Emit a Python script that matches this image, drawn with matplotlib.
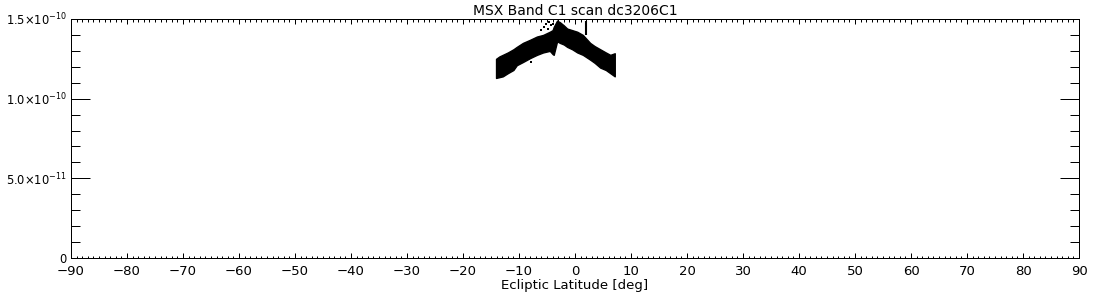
import matplotlib
matplotlib.use("Agg")
import matplotlib.pyplot as plt
from matplotlib.ticker import MultipleLocator, FixedLocator, FixedFormatter

plt.rcParams['font.family'] = ['DejaVu Sans']
plt.rcParams['mathtext.fontset'] = 'dejavusans'

# Envelope of the dense scan data (ecliptic latitude [deg], flux)
band_lat = [-14.1, -13.5, -12.9, -12.0, -11.0, -10.4, -9.3, -8.0, -6.8, -5.7,
            -4.5, -4.0, -3.8, -3.2, -2.7, -2.0, -1.4, -0.5, 0.4, 1.4,
            2.7, 3.5, 4.5, 5.5, 6.3, 7.1]
band_hi = [1.25, 1.265, 1.275, 1.29, 1.31, 1.325, 1.35, 1.37, 1.39, 1.40,
           1.42, 1.43, 1.45, 1.49, 1.48, 1.46, 1.44, 1.43, 1.42, 1.40,
           1.35, 1.33, 1.31, 1.29, 1.275, 1.285]
band_lo = [1.13, 1.135, 1.14, 1.16, 1.18, 1.21, 1.23, 1.255, 1.275, 1.29,
           1.30, 1.28, 1.275, 1.36, 1.35, 1.34, 1.325, 1.31, 1.29, 1.275,
           1.245, 1.225, 1.195, 1.18, 1.16, 1.14]
scale = 1e-10

# Scattered outlying samples
out_lat = [-6.0, -5.5, -5.2, -4.9, -4.6, -4.3, -4.1, -3.9, -7.9]
out_val = [1.43, 1.45, 1.47, 1.44, 1.48, 1.46, 1.50, 1.47, 1.23]

# Narrow spike
spike_lat = [2.0]
spike_lo = [1.40]
spike_hi = [1.49]

xticks = [-90, -80, -70, -60, -50, -40, -30, -20, -10, 0, 10, 20, 30, 40, 50, 60, 70, 80, 90]
yticks = [0, 5e-11, 1e-10, 1.5e-10]
ylabels = ['0', r'5.0$\times$10$^{-11}$', r'1.0$\times$10$^{-10}$', r'1.5$\times$10$^{-10}$']

fig = plt.figure(figsize=(11, 3), dpi=100)
ax = fig.add_axes([71/1100, 1 - 258/300, 1008/1100, 239/300])

ax.fill_between(band_lat, [v * scale for v in band_lo], [v * scale for v in band_hi],
                color='black', edgecolor='black', linewidth=1.0)
ax.plot(out_lat, [v * scale for v in out_val], 's', color='black', markersize=1.8,
        markeredgewidth=0)
ax.vlines(spike_lat, [v * scale for v in spike_lo], [v * scale for v in spike_hi],
          color='black', linewidth=1.5)

ax.set_xlim(-90, 90)
ax.set_ylim(0, 1.5e-10)

ax.xaxis.set_major_locator(FixedLocator(xticks))
ax.xaxis.set_minor_locator(MultipleLocator(1))
ax.set_xticklabels([str(t).replace('-', '\u2212') for t in xticks])
ax.yaxis.set_major_locator(FixedLocator(yticks))
ax.yaxis.set_major_formatter(FixedFormatter(ylabels))
ax.yaxis.set_minor_locator(MultipleLocator(1e-11))

lw = 0.72
for s in ax.spines.values():
    s.set_linewidth(lw)
ax.tick_params(axis='x', which='major', direction='in', length=3.6, width=lw,
               top=True, bottom=True, labelsize=9.5, pad=5)
ax.tick_params(axis='x', which='minor', direction='in', length=1.8, width=lw,
               top=True, bottom=True)
ax.tick_params(axis='y', which='major', direction='in', length=13.7, width=lw,
               left=True, right=True, labelsize=8.3, pad=3)
ax.tick_params(axis='y', which='minor', direction='in', length=6.8, width=lw,
               left=True, right=True)

ax.set_xlabel('Ecliptic Latitude [deg]', fontsize=9.5, labelpad=1)
ax.set_title('MSX Band C1 scan dc3206C1', fontsize=10, pad=3)

fig.savefig('out.png', dpi=100, facecolor='white')
